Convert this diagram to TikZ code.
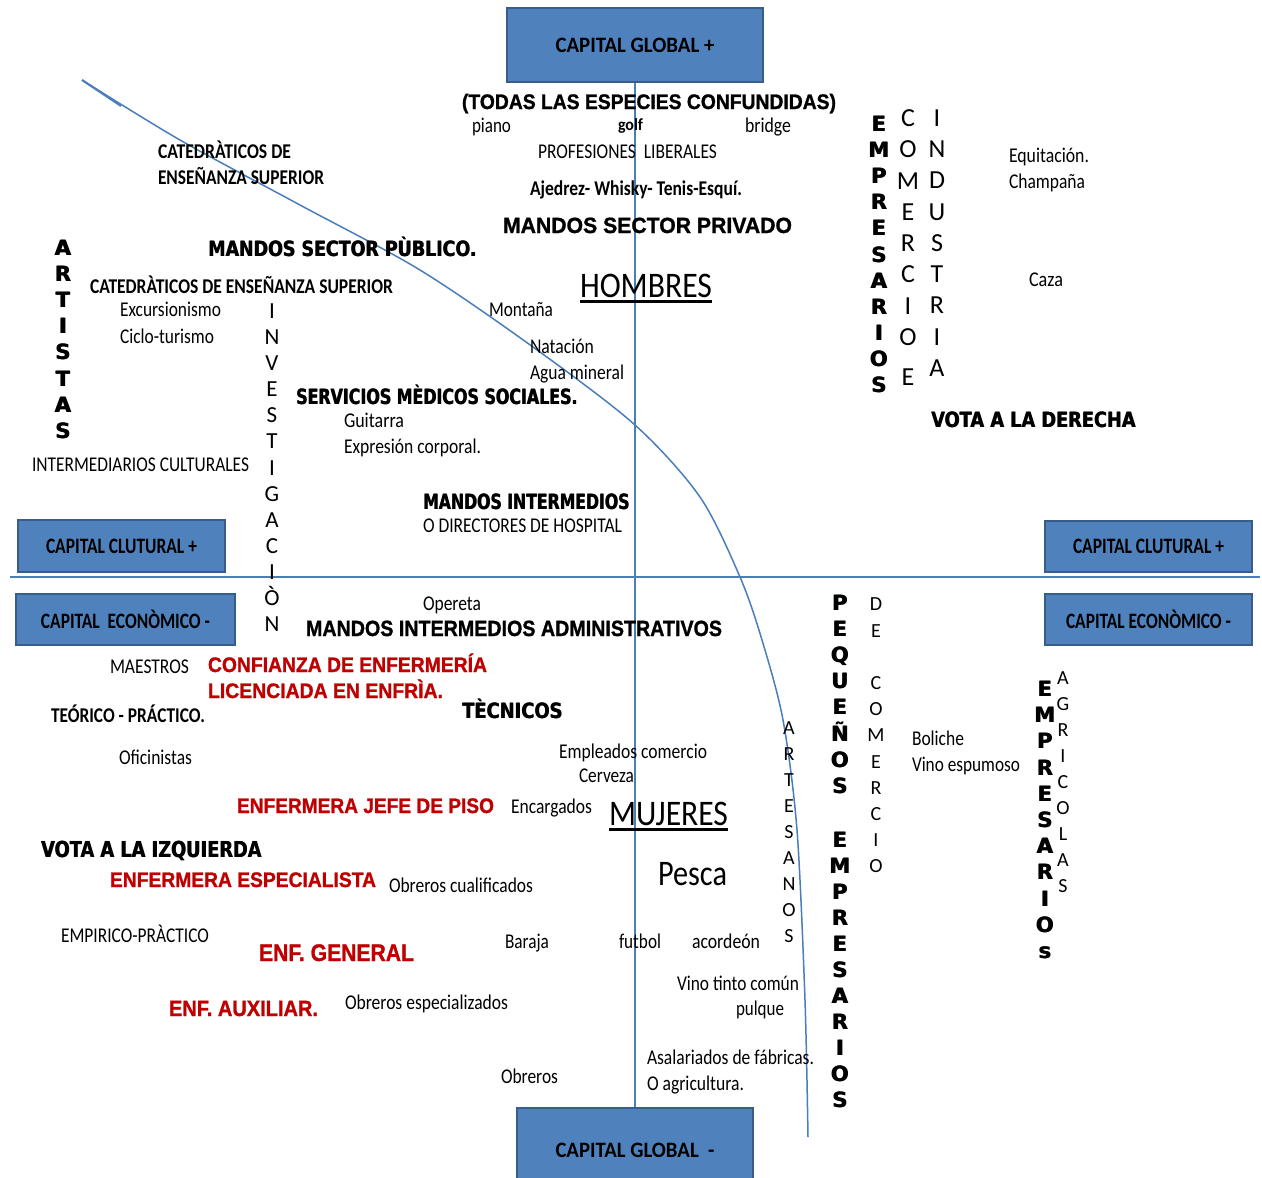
\documentclass[tikz,border=0pt]{standalone}
\usepackage{fontspec}
\setmainfont{Carlito}
\newfontfamily\arialf{Liberation Sans}[BoldFeatures={FakeBold=1.2}]
\newfontfamily\heavyf{DejaVu Sans}
\usepackage{graphicx}
\newcommand\fw[2]{\resizebox{#1pt}{\height}{#2}}
\newcommand\hvy[1]{\leavevmode\rlap{#1}\kern0.8pt #1}
\definecolor{boxfill}{HTML}{4F81BD}
\definecolor{boxline}{HTML}{385D8A}
\definecolor{axisc}{HTML}{4A7EBB}
\definecolor{redt}{HTML}{C00000}
\begin{document}
\begin{tikzpicture}[x=1pt,y=-1pt,
  t/.style={inner sep=0pt, outer sep=0pt, anchor=base west, font=\fontsize{21}{25}\selectfont},
  tb/.style={t, font=\bfseries\fontsize{21}{25}\selectfont},
  ab/.style={t, font=\arialf\bfseries\fontsize{22}{26}\selectfont},
  hv/.style={t, font=\heavyf\bfseries\fontsize{21}{25}\selectfont},
  rd/.style={t, text=redt, font=\arialf\bfseries\fontsize{21}{25}\selectfont},
  big/.style={t, font=\fontsize{36}{40}\selectfont},
  boxst/.style={draw=boxline, line width=2.5pt, fill=boxfill, inner sep=0pt, font=\bfseries\fontsize{22}{26}\selectfont},
  axis/.style={draw=axisc, line width=1.5pt},
  vl/.style={inner sep=0pt, anchor=base, font=\fontsize{20}{24}\selectfont},
  vm/.style={inner sep=0pt, anchor=base, font=\fontsize{23}{27}\selectfont},
  vbig/.style={inner sep=0pt, anchor=base, font=\fontsize{26}{30}\selectfont},
  vh/.style={inner sep=0pt, anchor=base, font=\heavyf\bfseries\fontsize{21}{25}\selectfont},
]
\useasboundingbox (0,0) rectangle (1262,1178);
\fill[white] (0,0) rectangle (1262,1178);

% boxes
\node[boxst, minimum width=256pt, minimum height=74pt] (gtop) at (635,45) {\fw{159}{CAPITAL GLOBAL +}};
\node[boxst, minimum width=207pt, minimum height=52pt] (ccl) at (121.5,546) {\fw{151}{CAPITAL CLUTURAL +}};
\node[boxst, minimum width=219pt, minimum height=51pt] (ecl) at (125.5,619.5) {\fw{169}{CAPITAL\ \ ECONÒMICO -}};
\node[boxst, minimum width=207pt, minimum height=51pt] (ccr) at (1148.5,546.5) {\fw{151}{CAPITAL CLUTURAL +}};
\node[boxst, minimum width=207pt, minimum height=51pt] (ecr) at (1148.5,619.5) {\fw{165}{CAPITAL ECONÒMICO -}};
\node[boxst, minimum width=236pt, minimum height=84pt] (gbot) at (635,1150) {\fw{159}{CAPITAL GLOBAL\ \ -}};

% axes
\draw[axis] (gtop.south) -- (gbot.north);
\coordinate (hl) at (10,577);
\coordinate (hr) at (1260,577);
\draw[axis] (hl) -- (hr);
\draw[axis] plot[smooth, tension=0.5] coordinates {(82,80) (180,140) (300,205) (420,270) (533,347) (635,425) (700,497) (740,577) (762,640) (783,720) (797,830) (805,1000) (808,1137)};
\draw[axis, line width=2pt] (82,80) -- (121,106);

% top centre
\node[ab, font=\arialf\bfseries\fontsize{21}{25}\selectfont] (todas) at (462,109) {\fw{374}{(TODAS LAS ESPECIES CONFUNDIDAS)}};
\node[t] (piano) at (472,132) {\fw{39}{piano}};
\node[tb, font=\bfseries\fontsize{17}{20}\selectfont] (golf) at (618,130) {\fw{25}{golf}};
\node[t] (bridge) at (745,132) {\fw{46}{bridge}};
\node[t] (prof) at (538,158) {\fw{179}{PROFESIONES\ \ LIBERALES}};
\node[tb] (ajed) at (530,195) {\fw{212}{Ajedrez- Whisky- Tenis-Esquí.}};
\node[ab] (privado) at (503,233) {\fw{289}{MANDOS SECTOR PRIVADO}};
\node[big] (hombres) at (580,297) {\fw{132}{HOMBRES}};
\draw[line width=3pt] ([yshift=-4pt]hombres.base west) -- ([yshift=-4pt]hombres.base east);

% top left
\node[tb] (cat1) at (158,158) {\fw{133}{CATEDRÀTICOS DE}};
\node[tb] (cat2) at (158,184) {\fw{166}{ENSEÑANZA SUPERIOR}};
\node[hv] (publico) at (208,256) {\fw{269}{\hvy{MANDOS SECTOR PÙBLICO.}}};
\node[tb] (cat3) at (90,293) {\fw{303}{CATEDRÀTICOS DE ENSEÑANZA SUPERIOR}};
\node[t] (excur) at (120,316) {\fw{101}{Excursionismo}};
\node[t] (ciclo) at (120,343) {\fw{94}{Ciclo-turismo}};
\node[t] (inter) at (32,471) {\fw{217}{INTERMEDIARIOS CULTURALES}};
\node[t] (mont) at (489,316) {\fw{64}{Montaña}};
\node[t] (nata) at (530,353) {\fw{64}{Natación}};
\node[t] (agua) at (530,379) {\fw{94}{Agua mineral}};
\node[hv] (serv) at (296,404) {\fw{282}{\hvy{SERVICIOS MÈDICOS SOCIALES.}}};
\node[t] (guit) at (344,427) {\fw{60}{Guitarra}};
\node[t] (expr) at (344,453) {\fw{137}{Expresión corporal.}};
\node[hv] (mint) at (423,509) {\fw{207}{\hvy{MANDOS INTERMEDIOS}}};
\node[t] (dir) at (423,532) {\fw{199}{O DIRECTORES DE HOSPITAL}};

\foreach \l [count=\i from 0] in {A,R,T,I,S,T,A,S}
  \node[vh] (art\i) at (63,{255.5+26.1*\i}) {\hvy{\l}};
\foreach \l [count=\i from 0] in {I,N,V,E,S,T,I,G,A,C,I,Ò,N}
  \node[vm] (inv\i) at (272,{318.4+26.1*\i}) {\l};

% top right
\foreach \l [count=\i from 0] in {E,M,P,R,E,S,A,R,I,O,S}
  \node[vh] (emp\i) at (879,{131.5+26.1*\i}) {\hvy{\l}};
\foreach \l [count=\i from 0] in {C,O,M,E,R,C,I,O}
  \node[vbig] (com\i) at (908,{126.4+31.3*\i}) {\l};
\node[vbig] (come) at (908,385.4) {E};
\foreach \l [count=\i from 0] in {I,N,D,U,S,T,R,I,A}
  \node[vbig] (ind\i) at (937,{126.4+31.25*\i}) {\l};
\node[t] (equi) at (1009,162) {\fw{80}{Equitación.}};
\node[t] (champ) at (1009,188) {\fw{76}{Champaña}};
\node[t] (caza) at (1029,286) {\fw{34}{Caza}};
\node[hv] (derecha) at (931,427) {\fw{205}{\hvy{VOTA A LA DERECHA}}};

% bottom left
\node[t] (oper) at (423,610) {\fw{58}{Opereta}};
\node[ab] (admin) at (306,636) {\fw{416}{MANDOS INTERMEDIOS ADMINISTRATIVOS}};
\node[t] (maes) at (110,673) {\fw{79}{MAESTROS}};
\node[rd] (conf) at (208,672) {\fw{279}{CONFIANZA DE ENFERMERÍA}};
\node[rd] (lic) at (208,698) {\fw{235}{LICENCIADA EN ENFRÌA.}};
\node[tb] (teor) at (51,722) {\fw{154}{TEÓRICO - PRÁCTICO.}};
\node[hv] (tec) at (462,718) {\fw{101}{\hvy{TÈCNICOS}}};
\node[t] (ofic) at (119,764) {\fw{73}{Oficinistas}};
\node[t] (empl) at (559,758) {\fw{148}{Empleados comercio}};
\node[t] (cerv) at (579,782) {\fw{55}{Cerveza}};
\node[rd] (jefe) at (237,813) {\fw{257}{ENFERMERA JEFE DE PISO}};
\node[t] (encar) at (511,813) {\fw{81}{Encargados}};
\node[big] (mujeres) at (609,825) {\fw{119}{MUJERES}};
\draw[line width=3pt] ([yshift=-4pt]mujeres.base west) -- ([yshift=-4pt]mujeres.base east);
\node[hv, font=\heavyf\bfseries\fontsize{22}{26}\selectfont] (izq) at (41,857) {\fw{221}{\hvy{VOTA A LA IZQUIERDA}}};
\node[rd] (espec) at (110,887) {\fw{266}{ENFERMERA ESPECIALISTA}};
\node[t] (obcual) at (389,892) {\fw{144}{Obreros cualificados}};
\node[big] (pesca) at (658,885) {\fw{69}{Pesca}};
\node[t] (empir) at (61,942) {\fw{148}{EMPIRICO-PRÀCTICO}};
\node[rd, font=\arialf\bfseries\fontsize{24}{28}\selectfont] (gen) at (259,961) {\fw{155}{ENF. GENERAL}};
\node[t] (baraja) at (505,948) {\fw{44}{Baraja}};
\node[t] (futbol) at (619,948) {\fw{42}{futbol}};
\node[t] (acord) at (692,948) {\fw{68}{acordeón}};
\node[rd, font=\arialf\bfseries\fontsize{22}{26}\selectfont] (aux) at (169,1016) {\fw{149}{ENF. AUXILIAR.}};
\node[t] (obesp) at (345,1009) {\fw{163}{Obreros especializados}};
\node[t] (vino) at (677,990) {\fw{122}{Vino tinto común}};
\node[t] (pulque) at (736,1015) {\fw{48}{pulque}};
\node[t] (asal) at (647,1064) {\fw{167}{Asalariados de fábricas.}};
\node[t] (agri) at (647,1090) {\fw{97}{O agricultura.}};
\node[t] (obreros) at (501,1083) {\fw{57}{Obreros}};

% bottom right
\foreach \l [count=\i from 0] in {A,R,T,E,S,A,N,O,S}
  \node[vl] (artes\i) at (789,{734.5+26*\i}) {\l};
\foreach \l [count=\i from 0] in {P,E,Q,U,E,Ñ,O,S}
  \node[vh] (peq\i) at (840,{610.5+26.1*\i}) {\hvy{\l}};
\foreach \l [count=\i from 0] in {E,M,P,R,E,S,A,R,I,O,S}
  \node[vh] (pemp\i) at (840,{847.5+26*\i}) {\hvy{\l}};
\node[vl] (dcd) at (876,610.5) {D};
\node[vl] (dce) at (876,637.5) {E};
\foreach \l [count=\i from 0] in {C,O,M,E,R,C,I,O}
  \node[vl] (dcom\i) at (876,{689.5+26.2*\i}) {\l};
\node[t] (boli) at (912,745) {\fw{52}{Boliche}};
\node[t] (espum) at (912,771) {\fw{108}{Vino espumoso}};
\foreach \l [count=\i from 0] in {E,M,P,R,E,S,A,R,I,O,s}
  \node[vh] (aemp\i) at (1045,{696.5+26.2*\i}) {\hvy{\l}};
\foreach \l [count=\i from 0] in {A,G,R,I,C,O,L,A,S}
  \node[vl] (agr\i) at (1063,{684.5+26*\i}) {\l};
\end{tikzpicture}
\end{document}
